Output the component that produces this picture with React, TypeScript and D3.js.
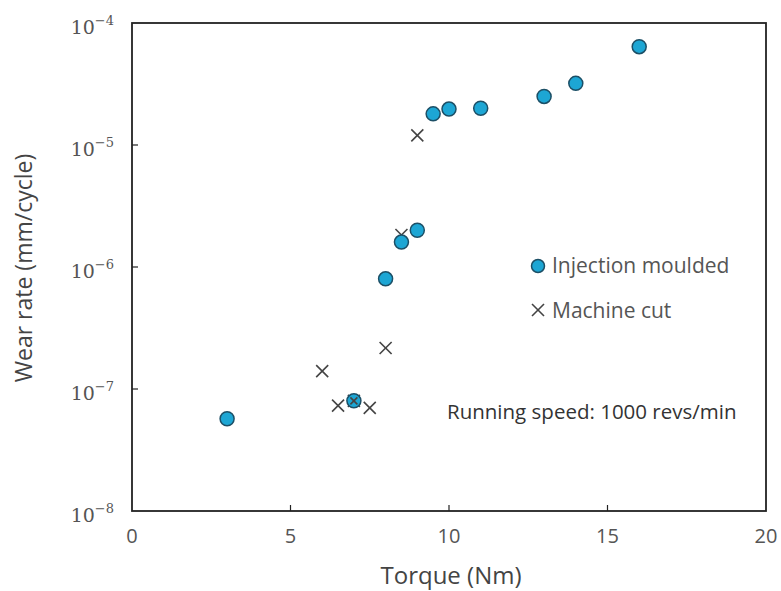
import React from "react";
import * as d3 from "d3";

const injTorque = [3, 7, 8, 8.5, 9, 9.5, 10, 11, 13, 14, 16];
const injWear = [5.7e-8, 8e-8, 8e-7, 1.6e-6, 2.0e-6, 1.8e-5, 1.97e-5, 2.0e-5, 2.5e-5, 3.2e-5, 6.4e-5];
const cutTorque = [6, 6.5, 7, 7.5, 8, 8.5, 9];
const cutWear = [1.4e-7, 7.3e-8, 8e-8, 7.0e-8, 2.17e-7, 1.83e-6, 1.2e-5];
const xTicks = [0, 5, 10, 15, 20];
const yExps = [-4, -5, -6, -7, -8];

const W = 781, H = 591;
const L = 132, R = 766, T = 23, B = 511;
const sans = "'Open Sans', sans-serif";

export default function App() {
  const x = d3.scaleLinear().domain([0, 20]).range([L, R]);
  const y = d3.scaleLog().domain([1e-8, 1e-4]).range([B, T]);
  const fill = "#1da6d4";
  const stroke = "#1c4f66";
  const cross = (cx: number, cy: number, k: string, s = 6) => (
    <g key={k} stroke="#444" strokeWidth={1.6}>
      <line x1={cx - s} y1={cy - s} x2={cx + s} y2={cy + s} />
      <line x1={cx - s} y1={cy + s} x2={cx + s} y2={cy - s} />
    </g>
  );
  return (
    <svg width={W} height={H} style={{ position: "absolute", left: 0, top: 0, background: "#fff" }}>
      <rect x={L} y={T} width={R - L} height={B - T} fill="none" stroke="#222" strokeWidth={1.8} />
      {xTicks.slice(1, -1).map((t) => (
        <line key={"xt" + t} x1={x(t)} x2={x(t)} y1={B} y2={B - 6} stroke="#222" strokeWidth={1.2} />
      ))}
      {yExps.slice(1, -1).map((e) => (
        <line key={"yt" + e} x1={L} x2={L + 6} y1={y(Math.pow(10, e))} y2={y(Math.pow(10, e))} stroke="#222" strokeWidth={1.2} />
      ))}
      {xTicks.map((t) => (
        <text key={"xl" + t} x={x(t)} y={B + 32} textAnchor="middle" fontFamily={sans} fontSize={20} fill="#555">
          {t}
        </text>
      ))}
      {yExps.map((e) => (
        <text key={"yl" + e} x={114} y={y(Math.pow(10, e)) + 11} textAnchor="end" fontFamily="'DejaVu Serif', serif" fontSize={19} fill="#555">
          10<tspan dy={-9} fontSize={13}>{"\u2212" + Math.abs(e)}</tspan>
        </text>
      ))}
      <text x={451} y={584} textAnchor="middle" fontFamily={sans} fontSize={24} fill="#444">
        Torque (Nm)
      </text>
      <text transform={`translate(32, 268) rotate(-90)`} textAnchor="middle" fontFamily={sans} fontSize={23} fill="#444">
        Wear rate (mm/cycle)
      </text>
      {cutTorque.map((t, i) => cross(x(t), y(cutWear[i]), "c" + i))}
      {injTorque.map((t, i) => (
        <circle key={"i" + i} cx={x(t)} cy={y(injWear[i])} r={7} fill={fill} stroke={stroke} strokeWidth={1.5} />
      ))}
      {cross(x(7), y(8e-8), "overlay", 3.5)}
      <circle cx={538} cy={266} r={6.5} fill={fill} stroke={stroke} strokeWidth={1.5} />
      <text x={552} y={273} fontFamily={sans} fontSize={21} fill="#555">Injection moulded</text>
      {cross(538, 310, "leg", 6)}
      <text x={552} y={318} fontFamily={sans} fontSize={21} fill="#555">Machine cut</text>
      <text x={447} y={419} fontFamily={sans} fontSize={20.5} fill="#333">Running speed: 1000 revs/min</text>
    </svg>
  );
}
